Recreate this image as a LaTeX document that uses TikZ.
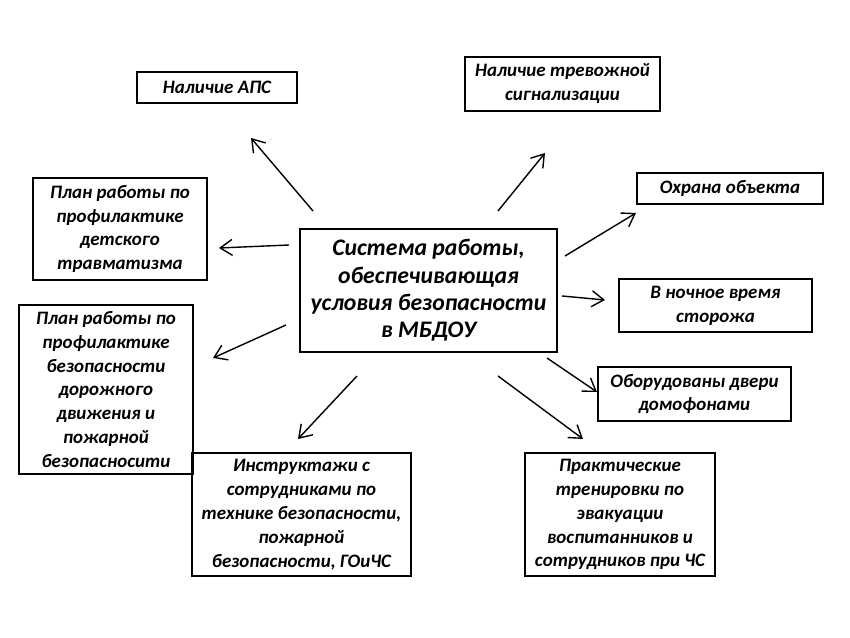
\documentclass[tikz,border=0pt]{standalone}
\usepackage{fontspec}
\setmainfont{Carlito}
\usetikzlibrary{arrows.meta}
\begin{document}
\begin{tikzpicture}[x=0.02cm,y=-0.02cm,
  box/.style={draw,line width=1.1pt,align=center,inner sep=0pt,
    font=\fontsize{10.8}{13.6}\selectfont\bfseries\itshape},
  mainbox/.style={box,font=\fontsize{13.5}{15.6}\selectfont\bfseries\itshape},
  arr/.style={line width=0.8pt,-{Straight Barb[length=2.4mm,width=3.2mm,line width=0.8pt]}}]
\useasboundingbox (0,0) rectangle (850,638);
\fill[white] (0,0) rectangle (850,638);

\node[mainbox,minimum width=5.14cm,minimum height=2.46cm] (c) at (428.5,290.5)
  {Система работы,\\обеспечивающая\\условия безопасности\\в МБДОУ};
\node[box,minimum width=3.2cm,minimum height=0.62cm] (aps) at (217,87.5) {Наличие АПС};
\node[box,minimum width=3.9cm,minimum height=1.08cm] (trev) at (562.5,84) {Наличие тревожной\\сигнализации};
\node[box,minimum width=3.72cm,minimum height=0.62cm] (ohr) at (730,188.5) {Охрана объекта};
\node[box,minimum width=3.86cm,minimum height=1.06cm] (noch) at (715.5,305.5) {В ночное время\\сторожа};
\node[box,minimum width=3.86cm,minimum height=1.08cm] (dom) at (694.5,394) {Оборудованы двери\\домофонами};
\node[box,minimum width=3.8cm,minimum height=2.46cm] (prak) at (620,514.5)
  {Практические\\тренировки по\\эвакуации\\воспитанников и\\сотрудников при ЧС};
\node[box,minimum width=4.38cm,minimum height=2.46cm] (instr) at (301.5,514.5)
  {Инструктажи с\\сотрудниками по\\технике безопасности,\\пожарной\\безопасности, ГОиЧС};
\node[box,minimum width=3.48cm,minimum height=3.38cm] (plan2) at (106,389.5)
  {План работы по\\профилактике\\безопасности\\дорожного\\движения и\\пожарной\\безопасносити};
\node[box,minimum width=3.48cm,minimum height=2.04cm] (plan1) at (120,229)
  {План работы по\\профилактике\\детского\\травматизма};

\coordinate (s1) at (313,211); \coordinate (e1) at (251,138);
\coordinate (s2) at (498,211); \coordinate (e2) at (545,153);
\coordinate (s3) at (565,256); \coordinate (e3) at (636,213);
\coordinate (s4) at (562,296); \coordinate (e4) at (605,300);
\coordinate (s5) at (547,358); \coordinate (e5) at (597,392);
\coordinate (s6) at (498,376); \coordinate (e6) at (583,439);
\coordinate (s7) at (357,376); \coordinate (e7) at (298,439);
\coordinate (s8) at (286,325); \coordinate (e8) at (213,358);
\coordinate (s9) at (289,245); \coordinate (e9) at (219,248);

\foreach \i in {1,...,9} \draw[arr] (s\i) -- (e\i);
\end{tikzpicture}
\end{document}
